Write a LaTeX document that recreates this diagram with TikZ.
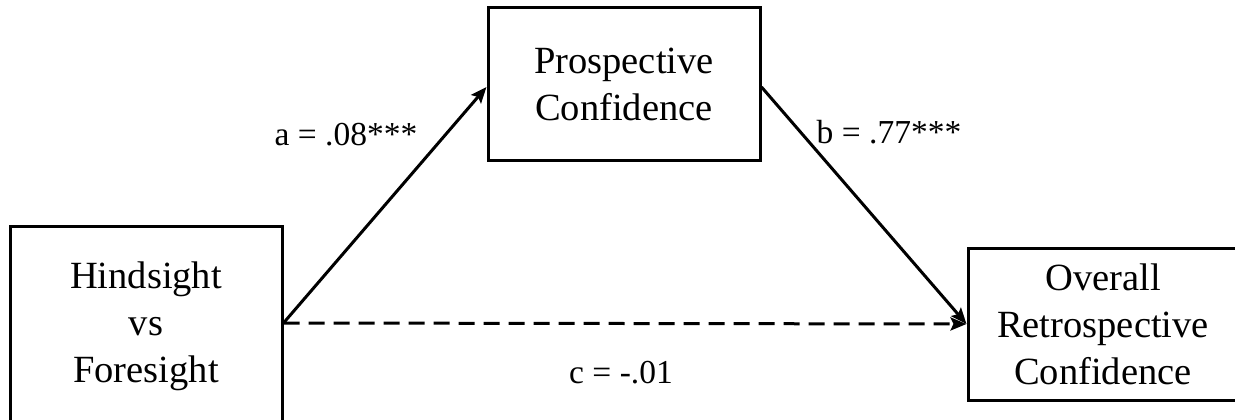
\documentclass[tikz,border=0pt]{standalone}
\usepackage{fontspec}
\setmainfont{Liberation Serif}
\usetikzlibrary{arrows.meta}
\begin{document}
\begin{tikzpicture}[x=1pt,y=-1pt,
  varbox/.style={draw=black, line width=3pt, fill=white, align=center, inner sep=0pt,
    font=\fontsize{38.5}{47}\selectfont},
  lbl/.style={font=\fontsize{33.5}{40}\selectfont, inner sep=0pt, anchor=base},
  conn/.style={line width=3pt, -{Stealth[length=16pt,width=13pt,inset=3pt]}},
]
\useasboundingbox (0,0) rectangle (1235,420);
\clip (0,0) rectangle (1235,420);
\fill[white] (0,0) rectangle (1235,420);
\node[varbox, minimum width=272pt, minimum height=200pt] (H) at (146,326) {Hindsight\\vs\\Foresight};
\node[varbox, minimum width=272pt, minimum height=152pt] (P) at (624,84) {Prospective\\Confidence};
\node[varbox, minimum width=270pt, minimum height=152pt] (R) at (1103,324) {Overall\\Retrospective\\Confidence};
\coordinate (Hout) at ([yshift=3pt]H.east);
\draw[conn] (Hout) -- ([yshift=-3pt]P.west);
\draw[conn] ([yshift=-3pt]P.east) -- (R.west);
\draw[conn, dash pattern=on 16pt off 9pt] (Hout) -- (R.west);
\node[lbl] (la) at (346,145) {a = .08***};
\node[lbl] (lb) at (889,143) {b = .77***};
\node[lbl] (lc) at (621,383) {c = -.01};
\end{tikzpicture}
\end{document}
